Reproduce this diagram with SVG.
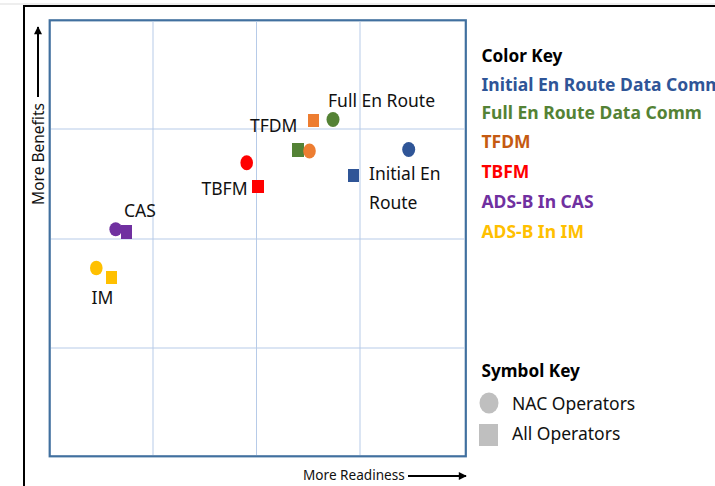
<svg xmlns="http://www.w3.org/2000/svg" width="715" height="486" viewBox="0 0 715 486">
  <defs>
    <style>
      .frame { fill: none; stroke: #000; stroke-width: 2; }
      .plot { fill: #fff; stroke: #41709f; stroke-width: 2.2; }
      .grid { stroke: #b7cbe8; stroke-width: 1; }
      .axis { stroke: #000; stroke-width: 2; fill: none; }
      .lbl { font-family: "Noto Sans", "Open Sans", sans-serif; font-size: 17.5px; fill: #111; }
      .axt { font-family: "Noto Sans", "Open Sans", sans-serif; fill: #111; }
      .keyh { font-family: "Noto Sans", "Open Sans", sans-serif; font-size: 17.2px; font-weight: bold; fill: #000; }
      .key { font-family: "Noto Sans", "Open Sans", sans-serif; font-size: 17.5px; font-weight: bold; }
      .sym { font-family: "Noto Sans", "Open Sans", sans-serif; font-size: 17.5px; fill: #111; }
    </style>
    <marker id="arrow" viewBox="0 0 10 10" refX="9" refY="5" markerWidth="4.6" markerHeight="4" orient="auto">
      <path d="M0,0 L10,5 L0,10 z" fill="#000"/>
    </marker>
  </defs>

  <rect width="715" height="486" fill="#fff"/>

  <!-- outer frame -->
  <line x1="0" y1="4" x2="715" y2="4" stroke="#ddd" stroke-width="1"/>
  <path class="frame" d="M24,486 V6 H715"/>

  <!-- plot area -->
  <g id="plot">
    <rect class="plot" x="49.7" y="20.3" width="416.1" height="436"/>
    <line class="grid" x1="153" y1="21.5" x2="153" y2="455"/>
    <line class="grid" x1="256.5" y1="21.5" x2="256.5" y2="455"/>
    <line class="grid" x1="360" y1="21.5" x2="360" y2="455"/>
    <line class="grid" x1="51" y1="129" x2="464.5" y2="129"/>
    <line class="grid" x1="51" y1="239" x2="464.5" y2="239"/>
    <line class="grid" x1="51" y1="348" x2="464.5" y2="348"/>
  </g>

  <!-- axes -->
  <g id="axes">
    <line class="axis" x1="38" y1="97" x2="38" y2="27" marker-end="url(#arrow)"/>
    <text class="axt" font-size="15.5" transform="translate(44,154) rotate(-90)" text-anchor="middle">More Benefits</text>
    <line class="axis" x1="408" y1="476" x2="466" y2="476" marker-end="url(#arrow)"/>
    <text class="axt" font-size="13.6" x="303" y="479.5">More Readiness</text>
  </g>

  <!-- data points -->
  <g id="initial-en-route">
    <ellipse cx="408.7" cy="149.5" rx="6.5" ry="7.5" fill="#2f5597"/>
    <rect x="348" y="169" width="11" height="13" fill="#2f5597"/>
    <text class="lbl" x="369" y="180">Initial En</text>
    <text class="lbl" x="369" y="209">Route</text>
  </g>
  <g id="full-en-route">
    <ellipse cx="333" cy="119.5" rx="6.5" ry="7.5" fill="#548235"/>
    <rect x="292" y="143" width="12" height="14" fill="#548235"/>
    <text class="lbl" x="328" y="107">Full En Route</text>
  </g>
  <g id="tfdm">
    <rect x="308" y="114" width="11" height="13" fill="#ed7d31"/>
    <ellipse cx="309.5" cy="151" rx="6.3" ry="7.5" fill="#ed7d31"/>
    <text class="lbl" x="250" y="131.5">TFDM</text>
  </g>
  <g id="tbfm">
    <ellipse cx="246.7" cy="162.7" rx="6.3" ry="7.5" fill="#ff0000"/>
    <rect x="252" y="180" width="12" height="13" fill="#ff0000"/>
    <text class="lbl" x="201.5" y="195">TBFM</text>
  </g>
  <g id="ads-b-cas">
    <ellipse cx="115.7" cy="229.3" rx="6.3" ry="7" fill="#7030a0"/>
    <rect x="121" y="225" width="11" height="14" fill="#7030a0"/>
    <text class="lbl" x="124" y="217">CAS</text>
  </g>
  <g id="ads-b-im">
    <ellipse cx="96.3" cy="268" rx="6.3" ry="7.3" fill="#ffc000"/>
    <rect x="106" y="271" width="11" height="13" fill="#ffc000"/>
    <text class="lbl" x="91.5" y="304">IM</text>
  </g>

  <!-- colour key -->
  <g id="color-key">
    <text class="keyh" x="481.5" y="62">Color Key</text>
    <text class="key" x="481.5" y="91" fill="#2f5597">Initial En Route Data Comm</text>
    <text class="key" x="481.5" y="119" fill="#548235">Full En Route Data Comm</text>
    <text class="key" x="481.5" y="148" fill="#c55a11">TFDM</text>
    <text class="key" x="481.5" y="177.5" fill="#ff0000">TBFM</text>
    <text class="key" x="481.5" y="207.5" fill="#7030a0">ADS-B In CAS</text>
    <text class="key" x="481.5" y="237.5" fill="#ffc000">ADS-B In IM</text>
  </g>

  <!-- symbol key -->
  <g id="symbol-key">
    <text class="keyh" x="481.5" y="377">Symbol Key</text>
    <ellipse cx="489" cy="403" rx="9.5" ry="10.5" fill="#bfbfbf"/>
    <text class="sym" x="512" y="410">NAC Operators</text>
    <rect x="479" y="424" width="19" height="22" fill="#bfbfbf"/>
    <text class="sym" x="512" y="440">All Operators</text>
  </g>
</svg>
